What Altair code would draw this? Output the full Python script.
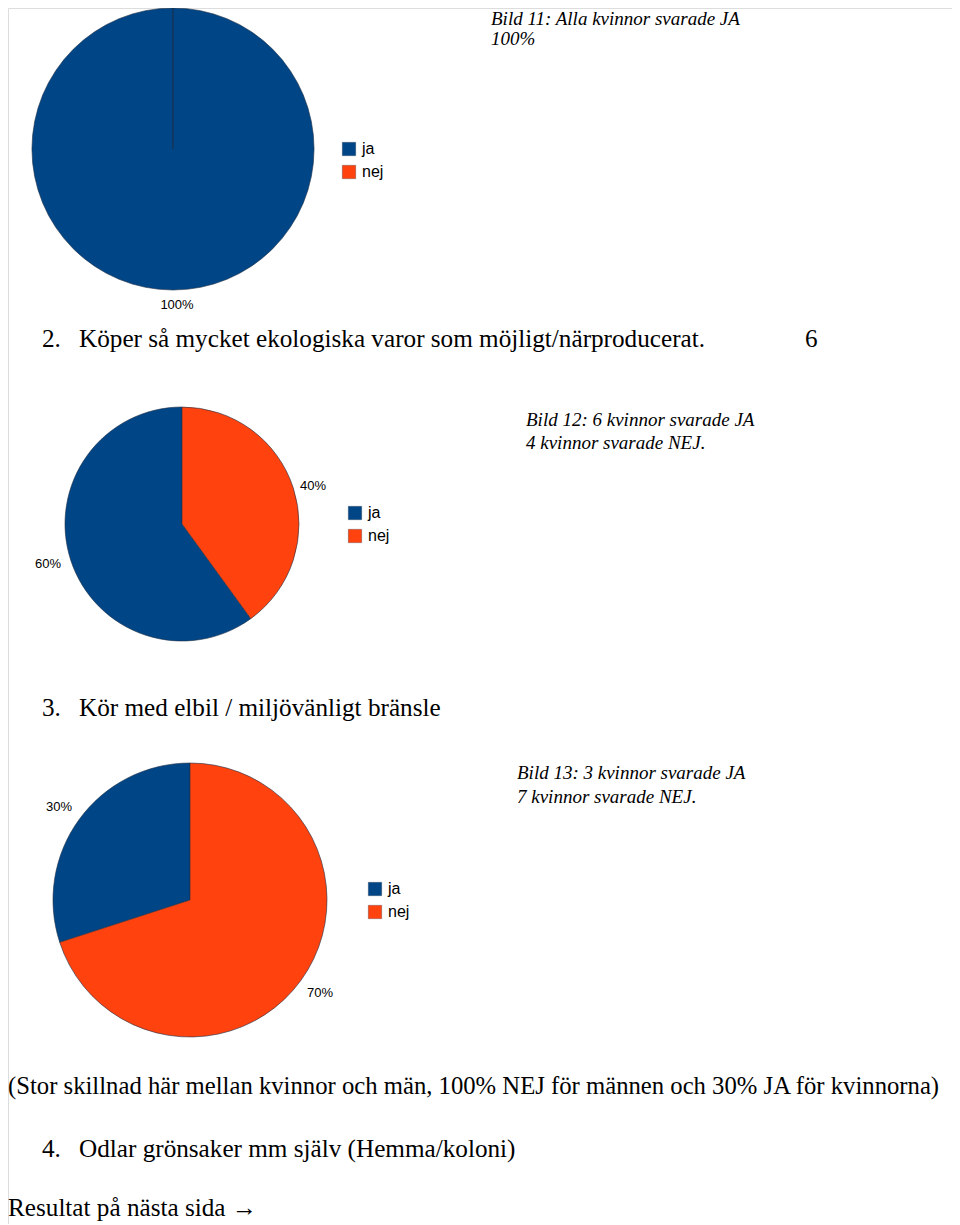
import altair as alt
import pandas as pd

# ---------------- data ----------------
categories = ["ja", "nej"]
colors = ["#004586", "#ff420e"]

pie1_values = [100, 0]
pie2_values = [60, 40]
pie3_values = [30, 70]

pie1_labels = ["100%"]
pie2_labels = ["40%", "60%"]
pie3_labels = ["30%", "70%"]

caption11 = ["Bild 11: Alla kvinnor svarade JA", "100%"]
caption12 = ["Bild 12: 6 kvinnor svarade JA", "4 kvinnor svarade NEJ."]
caption13 = ["Bild 13: 3 kvinnor svarade JA", "7 kvinnor svarade NEJ."]

heading2 = ["2.", "Köper så mycket ekologiska varor som möjligt/närproducerat.", "6"]
heading3 = ["3.", "Kör med elbil / miljövänligt bränsle"]
note_text = ["(Stor skillnad här mellan kvinnor och män, 100% NEJ för männen och 30% JA för kvinnorna)"]
heading4 = ["4.", "Odlar grönsaker mm själv (Hemma/koloni)"]
footer = ["Resultat på nästa sida →"]

M = 8  # page margin; positions below are page pixels


def P(v):
    return v - M


color_scale = alt.Scale(domain=categories, range=colors)

SERIF = "Times New Roman, Liberation Serif, serif"
SANS = "Liberation Sans, Arial, sans-serif"
BODY = 25.2


def pie(values, cx, cy, r):
    df = pd.DataFrame({"cat": categories, "val": values})
    return alt.Chart(df).mark_arc(
        radius=r, stroke="#1f2f44", strokeWidth=0.6
    ).encode(
        theta=alt.Theta("val:Q", stack=True, scale=alt.Scale(domain=[0, sum(values)])),
        color=alt.Color("cat:N", scale=color_scale, legend=None),
        order=alt.Order("cat:N", sort="descending"),
        x=alt.value(P(cx)),
        y=alt.value(P(cy)),
    )


def text(s, x, y, font=SERIF, size=BODY, italic=False, align="left"):
    df = pd.DataFrame({"t": [s]})
    return alt.Chart(df).mark_text(
        font=font, fontSize=size, fontStyle="italic" if italic else "normal",
        align=align, baseline="alphabetic", color="#000000",
    ).encode(text="t:N", x=alt.value(P(x)), y=alt.value(P(y)))


def legend(x, y_ja, gap=23):
    layers = []
    for i, c in enumerate(categories):
        df = pd.DataFrame({"cat": [c]})
        yy = y_ja + i * gap
        layers.append(
            alt.Chart(df).mark_square(size=180, opacity=1, stroke="#1f2f44", strokeWidth=0.3).encode(
                color=alt.Color("cat:N", scale=color_scale, legend=None),
                x=alt.value(P(x)), y=alt.value(P(yy)),
            )
        )
        layers.append(
            alt.Chart(df).mark_text(font=SANS, fontSize=16, align="left", baseline="middle", color="#000").encode(
                text="cat:N", x=alt.value(P(x + 13)), y=alt.value(P(yy))
            )
        )
    return layers


layers = []
# ---- pie 1 ----
layers.append(pie(pie1_values, 173, 149, 141))
layers += legend(349, 149)
layers.append(text(pie1_labels[0], 177, 309, font=SANS, size=13, align="center"))
layers.append(text(caption11[0], 491, 25, size=19, italic=True))
layers.append(text(caption11[1], 491, 45, size=19, italic=True))

# ---- heading 2 ----
layers.append(text(heading2[0], 42, 347))
layers.append(text(heading2[1], 79, 347))
layers.append(text(heading2[2], 805, 347))

# ---- pie 2 ----
layers.append(pie(pie2_values, 182, 524, 117))
layers += legend(355, 513)
layers.append(text(pie2_labels[0], 313, 490, font=SANS, size=13, align="center"))
layers.append(text(pie2_labels[1], 48, 568, font=SANS, size=13, align="center"))
layers.append(text(caption12[0], 526, 426, size=19, italic=True))
layers.append(text(caption12[1], 526, 449, size=19, italic=True))

# ---- heading 3 ----
layers.append(text(heading3[0], 42, 716))
layers.append(text(heading3[1], 79, 716))

# ---- pie 3 ----
layers.append(pie(pie3_values, 190, 900, 137))
layers += legend(375, 889)
layers.append(text(pie3_labels[0], 59, 811, font=SANS, size=13, align="center"))
layers.append(text(pie3_labels[1], 320, 997, font=SANS, size=13, align="center"))
layers.append(text(caption13[0], 517, 779, size=19, italic=True))
layers.append(text(caption13[1], 517, 803, size=19, italic=True))

# ---- bottom text ----
layers.append(text(note_text[0], 8, 1094, size=24.7))
layers.append(text(heading4[0], 42, 1157))
layers.append(text(heading4[1], 79, 1157))
layers.append(text(footer[0], 8, 1216))

chart = alt.layer(*layers).resolve_scale(theta="independent").properties(
    width=944, height=1216, padding=0, autosize=alt.AutoSizeParams(type="none")
).configure_view(stroke=None).configure(background="#ffffff")

chart.save("out.html", embed_options={"renderer": "svg", "actions": False})
